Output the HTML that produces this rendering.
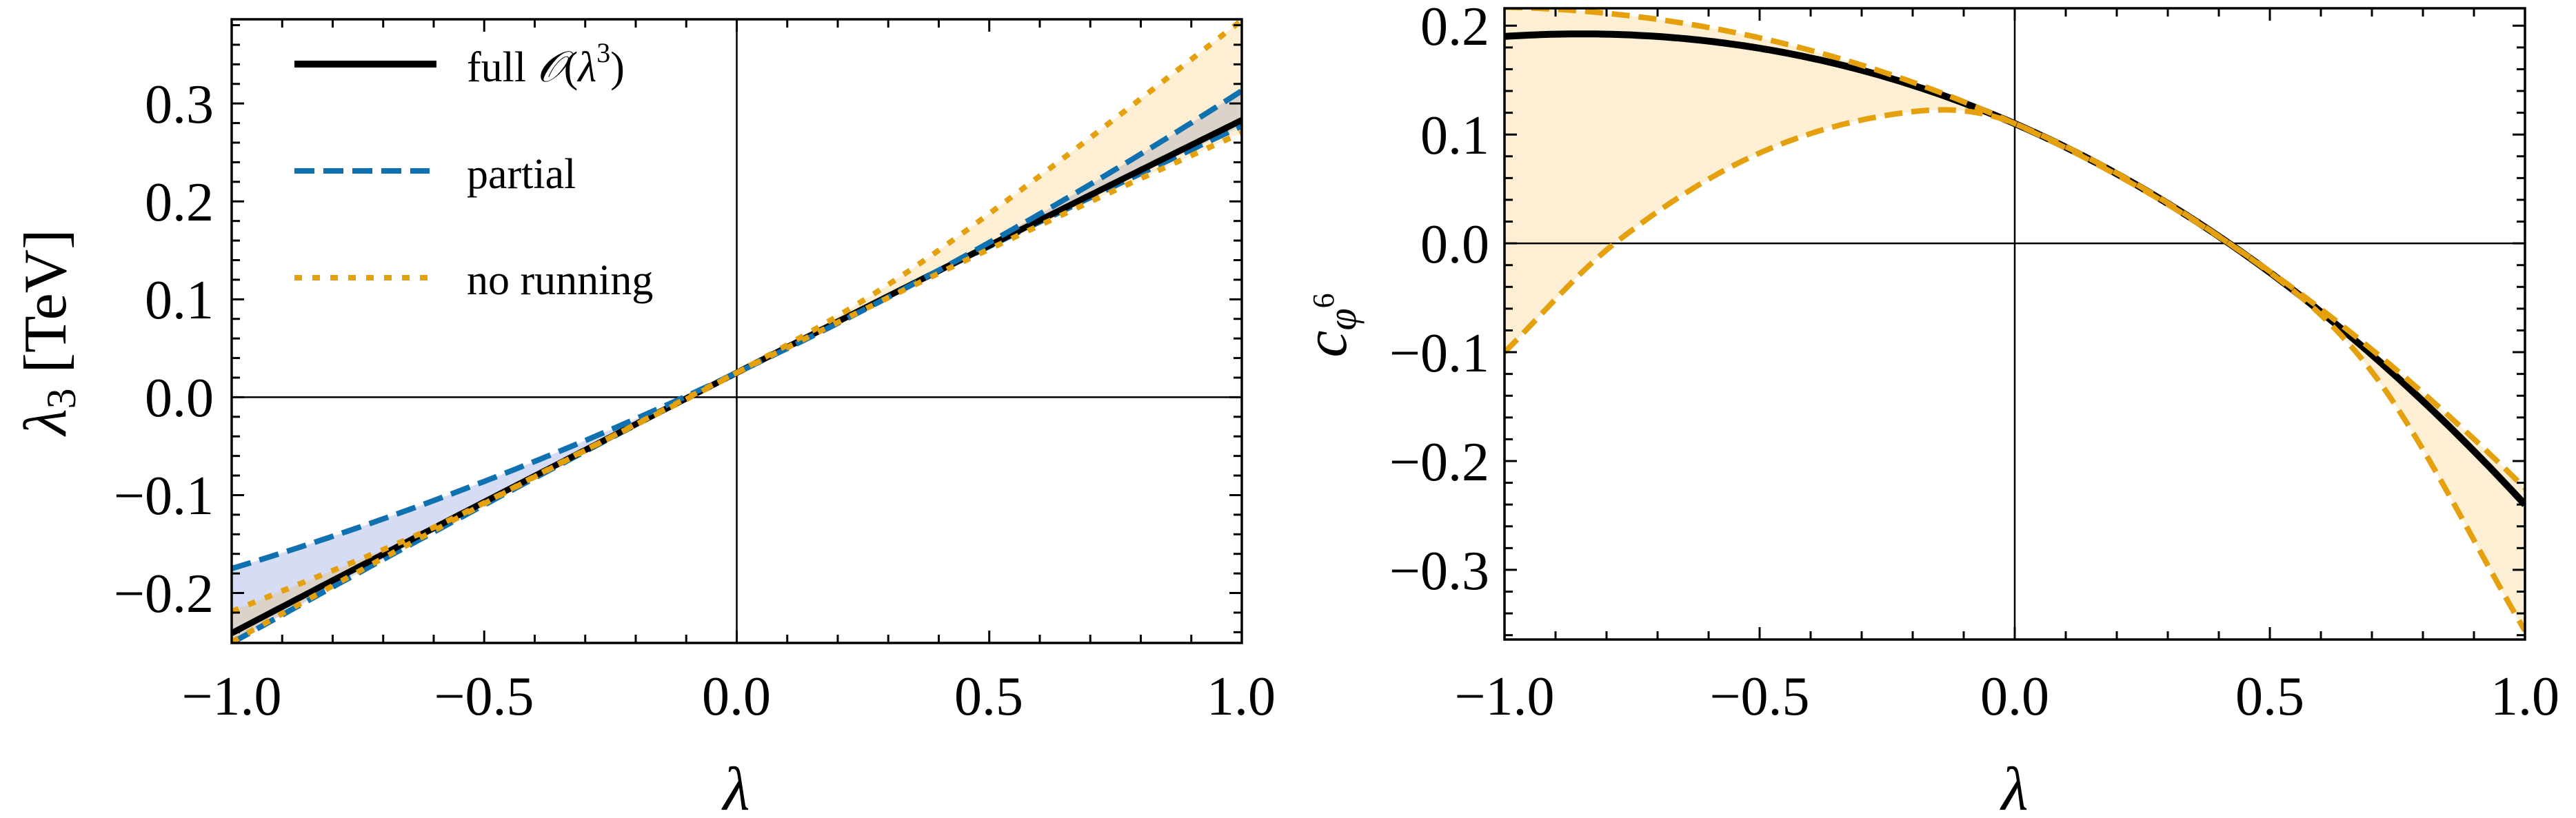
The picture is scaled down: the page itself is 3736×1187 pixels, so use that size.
<!DOCTYPE html>
<html><head><meta charset="utf-8">
<style>
html,body{margin:0;padding:0;background:#fff;}
svg{display:block;}
text{font-family:"Liberation Serif","DejaVu Serif",serif;fill:#000;}
</style></head>
<body>
<svg id="s" width="3736" height="1187" viewBox="0 0 3736 1187" xmlns="http://www.w3.org/2000/svg">
<defs>
<clipPath id="c1"><rect x="336" y="28" width="1465" height="905"/></clipPath>
<clipPath id="c2"><rect x="2182" y="12" width="1480" height="916"/></clipPath>
</defs>
<g id="p1"></g>
<g id="p2"></g>
<g font-size="80" text-anchor="end">
<text x="310" y="178">0.3</text>
<text x="310" y="320">0.2</text>
<text x="310" y="462">0.1</text>
<text x="310" y="604">0.0</text>
<text x="310" y="746">−0.1</text>
<text x="310" y="888">−0.2</text>
</g>
<g font-size="80" text-anchor="middle">
<text x="336" y="1037">−1.0</text>
<text x="702" y="1037">−0.5</text>
<text x="1068" y="1037">0.0</text>
<text x="1434" y="1037">0.5</text>
<text x="1800" y="1037">1.0</text>
<text x="2182" y="1037">−1.0</text>
<text x="2552" y="1037">−0.5</text>
<text x="2922" y="1037">0.0</text>
<text x="3292" y="1037">0.5</text>
<text x="3662" y="1037">1.0</text>
</g>
<g font-size="80" text-anchor="end">
<text x="2160" y="65">0.2</text>
<text x="2160" y="223">0.1</text>
<text x="2160" y="381">0.0</text>
<text x="2160" y="539">−0.1</text>
<text x="2160" y="697">−0.2</text>
<text x="2160" y="855">−0.3</text>
</g>
<text font-size="90" font-style="italic" x="1068" y="1175" text-anchor="middle">λ</text>
<text font-size="90" font-style="italic" x="2922" y="1175" text-anchor="middle">λ</text>
<text font-size="88" transform="translate(95,482) rotate(-90)" text-anchor="middle"><tspan font-style="italic">λ</tspan><tspan font-size="60" dy="14">3</tspan><tspan dy="-14"> [TeV]</tspan></text>
<text font-size="88" transform="translate(1952,472) rotate(-90)" text-anchor="middle"><tspan font-style="italic">c</tspan><tspan font-size="58" font-style="italic" dy="14">φ</tspan><tspan font-size="44" dy="-32">6</tspan></text>
<line x1="427" y1="93" x2="633" y2="93" stroke="#000" stroke-width="10"/>
<line x1="427" y1="248" x2="623" y2="248" stroke="#0f71b0" stroke-width="8" stroke-dasharray="29,13"/>
<line x1="427" y1="403" x2="623" y2="403" stroke="#e5a00d" stroke-width="8" stroke-dasharray="11,15"/>
<g font-size="62">
<text x="677" y="118">full <tspan font-style="italic">𝒪</tspan>(<tspan font-style="italic">λ</tspan><tspan font-size="40" dy="-28">3</tspan><tspan dy="28">)</tspan></text>
<text x="677" y="273">partial</text>
<text x="677" y="427">no running</text>
</g>
</svg>
<script>
const NS="http://www.w3.org/2000/svg";
function el(p,t,a){const e=document.createElementNS(NS,t);for(const k in a)e.setAttribute(k,a[k]);p.appendChild(e);return e;}
function spline(pts){return function(x){let i=0;while(i<pts.length-2&&x>pts[i+1][0])i++;
 const p0=pts[Math.max(i-1,0)],p1=pts[i],p2=pts[i+1],p3=pts[Math.min(i+2,pts.length-1)];
 const t=(x-p1[0])/(p2[0]-p1[0]);
 const m1=(p2[1]-p0[1])/(p2[0]-p0[0])*(p2[0]-p1[0]);const m2=(p3[1]-p1[1])/(p3[0]-p1[0])*(p2[0]-p1[0]);
 const t2=t*t,t3=t2*t;return (2*t3-3*t2+1)*p1[1]+(t3-2*t2+t)*m1+(-2*t3+3*t2)*p2[1]+(t3-t2)*m2;};}
function panel(g,X0,X1,Y0,Y1,ymin,ymax,clip,ymaj,series,fills){
 const sx=x=>X0+(x+1)/2*(X1-X0), sy=y=>Y1-(y-ymin)/(ymax-ymin)*(Y1-Y0);
 const cg=el(g,"g",{"clip-path":"url(#"+clip+")"});
 const N=200;
 function pts(f){let a=[];for(let i=0;i<=N;i++){const x=-1+2*i/N;a.push([sx(x),sy(f(x))]);}return a;}
 fills.forEach(([f1,f2,col])=>{const a=pts(f1),b=pts(f2).reverse();
  el(cg,"path",{d:"M"+a.concat(b).map(p=>p[0].toFixed(1)+","+p[1].toFixed(1)).join("L")+"Z",fill:col,stroke:"none"});});
 el(cg,"line",{x1:X0,x2:X1,y1:sy(0),y2:sy(0),stroke:"#000","stroke-width":2.5});
 el(cg,"line",{x1:sx(0),x2:sx(0),y1:Y0,y2:Y1,stroke:"#000","stroke-width":2.5});
 series.forEach(([f,col,w,dash])=>{const a=pts(f);
  const at={d:"M"+a.map(p=>p[0].toFixed(1)+","+p[1].toFixed(1)).join("L"),fill:"none",stroke:col,"stroke-width":w,"stroke-linejoin":"round"};
  if(dash)at["stroke-dasharray"]=dash;el(cg,"path",at);});
 for(let i=0;i<=20;i++){const x=sx(-1+i*0.1);const L=(i%5==0)?18:12;
  el(g,"line",{x1:x,x2:x,y1:Y1,y2:Y1-L,stroke:"#000","stroke-width":3});
  el(g,"line",{x1:x,x2:x,y1:Y0,y2:Y0+L,stroke:"#000","stroke-width":3});}
 for(let k=Math.ceil(ymin/0.02);k*0.02<=ymax+1e-9;k++){const v=k*0.02;const y=sy(v);const L=(Math.abs(Math.round(v*10)-v*10)<1e-6)?18:12;
  el(g,"line",{x1:X0,x2:X0+L,y1:y,y2:y,stroke:"#000","stroke-width":3});
  el(g,"line",{x1:X1,x2:X1-L,y1:y,y2:y,stroke:"#000","stroke-width":3});}
 el(g,"rect",{x:X0,y:Y0,width:X1-X0,height:Y1-Y0,fill:"none",stroke:"#000","stroke-width":3.5});
}
const OR="#e5a00d",BL="#0f71b0";
const full=x=>0.025+0.262*x-0.004*x*x;
const pu=x=>0.025+0.244*x+0.044*x*x;
const pl=x=>0.025+0.264*x-0.012*x*x;
const nu=spline([[-1,-0.219],[-0.6,-0.133],[-0.3,-0.054],[0,0.025],[0.3,0.115],[0.6,0.226],[1,0.385]]);
const nl=x=>0.025+0.260*x-0.015*x*x;
panel(document.getElementById("p1"),336,1801,28,933,-0.251,0.386,"c1",0.1,
 [[pl,BL,8,"29,13"],[full,"#000",9,null],[pu,BL,8,"29,13"],[nl,OR,8,"11,15"],[nu,OR,8,"11,15"]],
 [[pu,pl,"rgba(70,95,200,0.22)"],[nu,nl,"rgba(240,175,40,0.2)"]]);
const f2=x=>0.11-0.203*x-0.135*x*x-0.0121*x*x*x;
const u2=x=>0.11-0.2126*x-0.114*x*x-0.0084*x*x*x;
const l2=spline([[-1,-0.1],[-0.784,0],[-0.5,0.083],[-0.2,0.121],[0,0.11],[0.42,0],[0.7,-0.118],[1,-0.356]]);
panel(document.getElementById("p2"),2182,3662,12,928,-0.364,0.216,"c2",0.1,
 [[f2,"#000",10,null],[u2,OR,8,"26,13"],[l2,OR,8,"26,13"]],
 [[u2,l2,"rgba(240,175,40,0.2)"]]);
</script>
</body></html>
